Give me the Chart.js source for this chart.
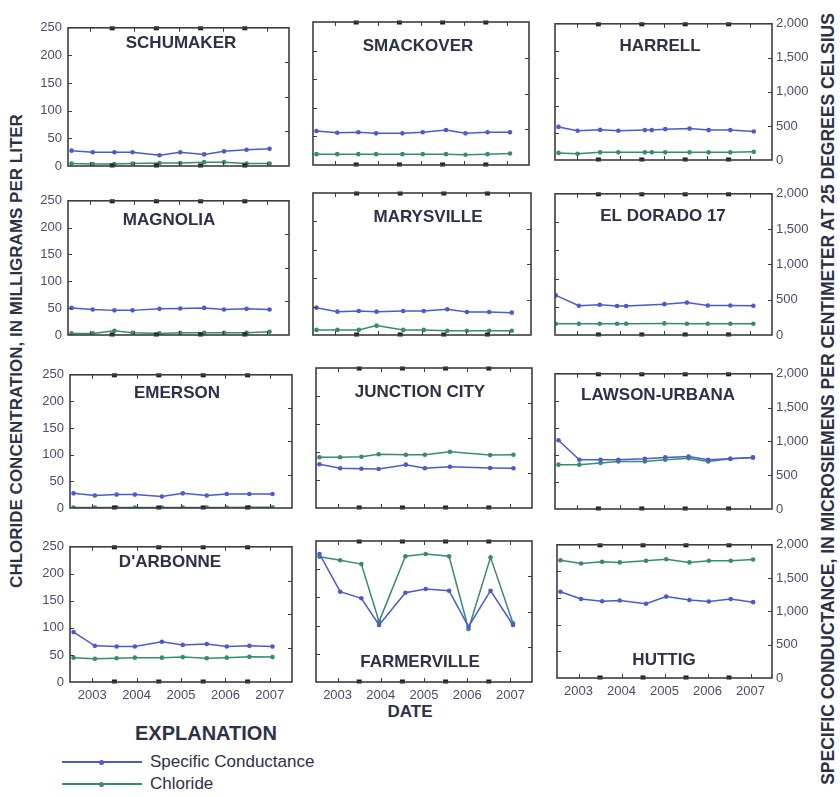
<!DOCTYPE html>
<html>
<head>
<meta charset="utf-8">
<script src="https://cdn.jsdelivr.net/npm/chart.js@4.4.1/dist/chart.umd.min.js"></script>
<style>
  body { margin: 0; background: #fff; }
  #fig { position: relative; width: 840px; height: 797px; overflow: hidden;
         font-family: "Liberation Sans", Arial, sans-serif; background: #fff; }
  #fig canvas { position: absolute; }
  .txt { position: absolute; white-space: nowrap; color: #2c3148; font-weight: bold; }
  .rot { transform: translate(-50%, -50%) rotate(-90deg); }
  .ctr { transform: translate(-50%, -50%); }
  .lg-line { position: absolute; height: 2px; }
  .lg-dot { position: absolute; width: 5px; height: 5px; border-radius: 50%; }
  .lg-txt { position: absolute; font-size: 17px; color: #2c3148; transform: translateY(-50%); white-space: nowrap; }
</style>
</head>
<body>
<div id="fig">
  <div class="txt rot" style="left:17px; top:351px; font-size:17px;">CHLORIDE CONCENTRATION, IN MILLIGRAMS PER LITER</div>
  <div class="txt rot" style="left:828px; top:399px; font-size:17.5px;">SPECIFIC CONDUCTANCE, IN MICROSIEMENS PER CENTIMETER AT 25 DEGREES CELSIUS</div>
  <div class="txt ctr" style="left:410px; top:712px; font-size:17px;">DATE</div>
  <div class="txt" style="left:135px; top:733px; font-size:20px; transform: translateY(-50%);">EXPLANATION</div>

  <div class="lg-line" style="left:62px; top:761px; width:80px; background:#4b5ad2;"></div>
  <div class="lg-dot" style="left:99px; top:759.5px; background:#4b5ad2;"></div>
  <div class="lg-txt" style="left:150px; top:762px;">Specific Conductance</div>
  <div class="lg-line" style="left:62px; top:783px; width:80px; background:#378c6e;"></div>
  <div class="lg-dot" style="left:99px; top:781.5px; background:#378c6e;"></div>
  <div class="lg-txt" style="left:150px; top:784px;">Chloride</div>
</div>

<script>
// ---- Data: semiannual samples, 2002-2007 ----
// Specific conductance in microsiemens per centimeter at 25 °C, chloride in mg/L.
const siteNames = ['SCHUMAKER', 'SMACKOVER', 'HARRELL', 'MAGNOLIA', 'MARYSVILLE', 'EL DORADO 17',
                   'EMERSON', 'JUNCTION CITY', 'LAWSON-URBANA', "D'ARBONNE", 'FARMERVILLE', 'HUTTIG'];

const sampleDates   = [2002.58, 2003.06, 2003.55, 2003.96, 2004.57, 2005.04, 2005.58, 2006.03, 2006.54, 2007.06];
const harrellDates  = [2002.58, 2003.02, 2003.54, 2003.96, 2004.57, 2004.73, 2005.04, 2005.60, 2006.04, 2006.54, 2007.08];
const elDoradoDates = [2002.52, 2003.05, 2003.53, 2003.93, 2004.14, 2005.02, 2005.54, 2006.02, 2006.54, 2007.07];
const junctionDates = [2002.58, 2003.06, 2003.55, 2003.95, 2004.58, 2005.02, 2005.60, 2006.53, 2007.07];

const schumakerSC = [222, 200, 198, 198, 155, 200, 168, 212, 235, 248];
const schumakerCl = [4.5, 3.5, 3.5, 4.5, 5.5, 5.5, 7, 7, 4.5, 4.5];
const smackoverSC = [476, 452, 457, 443, 443, 457, 490, 443, 457, 457];
const smackoverCl = [19, 19, 19, 19, 19, 19, 19, 18, 19, 20];
const harrellSC   = [486, 429, 443, 429, 439, 439, 453, 461, 439, 439, 419];
const harrellCl   = [13, 11.5, 14, 14, 14, 14, 14, 14, 14, 14, 15];
const magnoliaSC  = [404, 381, 367, 367, 390, 396, 404, 381, 390, 381];
const magnoliaCl  = [3, 3, 8, 4, 3, 4, 4, 4, 4, 6];
const marysvilleSC = [385, 329, 338, 329, 338, 338, 362, 324, 324, 315];
const marysvilleCl = [9, 9, 9, 16.5, 9, 9, 7.5, 7.5, 7.5, 7.5];
const elDoradoSC  = [561, 414, 428, 410, 410, 437, 459, 418, 418, 414];
const elDoradoCl  = [20, 20, 20, 20, 20, 20.5, 20, 20, 20, 20];
const emersonSC   = [220, 187, 201, 201, 173, 220, 187, 211, 211, 211];
const emersonCl   = [1, 1, 1, 1, 1, 1, 1, 1, 1.5, 1.5];
const junctionSC  = [624, 567, 561, 557, 619, 567, 590, 571, 567];
const junctionCl  = [90.5, 90.5, 91.5, 96, 95, 95, 100.5, 94.5, 95];
const lawsonSC    = [1017, 729, 729, 729, 744, 763, 777, 729, 744, 763];
const lawsonCl    = [82, 82, 85, 88, 88, 91, 94, 88, 93, 95];
const darbonneSC  = [738, 535, 525, 525, 596, 549, 563, 525, 535, 525];
const darbonneCl  = [45, 43, 44, 45, 45, 46, 44, 45, 46.5, 46];
const farmervilleSC = [1816, 1281, 1187, 809, 1267, 1319, 1295, 784, 1295, 809];
const farmervilleCl = [222, 216, 209, 107, 223, 227, 223, 94, 221, 104];
const huttigSC    = [1295, 1187, 1153, 1163, 1114, 1222, 1172, 1149, 1187, 1139];
const huttigCl    = [221, 215, 218, 217, 220, 223, 217, 220, 220, 222.5];

// Axis ticks
const yearTicks   = [2003, 2004, 2005, 2006, 2007];
const halfYearTicks = [2003.5, 2004.5, 2005.5, 2006.5];
const chlorideTicks = [0, 50, 100, 150, 200, 250];
const conductanceTicks = [0, 500, 1000, 1500, 2000];
const conductanceLabels = ['0', '500', '1,000', '1,500', '2,000'];

const sites = [
  { dates: sampleDates,   sc: schumakerSC,   cl: schumakerCl },
  { dates: sampleDates,   sc: smackoverSC,   cl: smackoverCl },
  { dates: harrellDates,  sc: harrellSC,     cl: harrellCl },
  { dates: sampleDates,   sc: magnoliaSC,    cl: magnoliaCl },
  { dates: sampleDates,   sc: marysvilleSC,  cl: marysvilleCl },
  { dates: elDoradoDates, sc: elDoradoSC,    cl: elDoradoCl },
  { dates: sampleDates,   sc: emersonSC,     cl: emersonCl },
  { dates: junctionDates, sc: junctionSC,    cl: junctionCl },
  { dates: sampleDates,   sc: lawsonSC,      cl: lawsonCl },
  { dates: sampleDates,   sc: darbonneSC,    cl: darbonneCl },
  { dates: sampleDates,   sc: farmervilleSC, cl: farmervilleCl },
  { dates: sampleDates,   sc: huttigSC,      cl: huttigCl },
];

// ---- Layout: plot rectangle of each panel, and where its name sits ----
const plotRects = [
  { x: 68,  y: 22,  w: 221, h: 144 }, { x: 313, y: 22,  w: 216, h: 143 }, { x: 555, y: 20,  w: 217, h: 140 },
  { x: 68,  y: 195, w: 221, h: 140 }, { x: 313, y: 193, w: 218, h: 142 }, { x: 555, y: 190, w: 217, h: 145 },
  { x: 70,  y: 369, w: 222, h: 139 }, { x: 316, y: 368, w: 216, h: 140 }, { x: 555, y: 370, w: 217, h: 139 },
  { x: 70,  y: 541, w: 222, h: 141 }, { x: 316, y: 541, w: 216, h: 141 }, { x: 557, y: 541, w: 215, h: 137 },
];
const namePos = [
  [181, 43], [418, 46], [660, 46],
  [169, 220], [428, 217], [663, 216],
  [177, 393], [420, 392], [658, 395],
  [170, 562], [420, 662], [664, 660],
];

const BLUE = '#4b5ad2';
const GREEN = '#378c6e';
const TICK_COLOR = '#474d6e';
const FONT = '"Liberation Sans", Arial, sans-serif';
const M = { l: 44, r: 48, t: 8, b: 26 };

// Frame, inner tick marks and the site name, drawn over each panel
const panelDecor = {
  id: 'panelDecor',
  afterDraw(chart, args, opts) {
    const { ctx, chartArea: a, scales } = chart;
    ctx.save();
    ctx.strokeStyle = '#3c3c44';
    ctx.fillStyle = '#1e1e24';
    ctx.lineWidth = 1;
    // year ticks along top and bottom
    yearTicks.forEach(v => {
      const x = Math.round(scales.x.getPixelForValue(v)) + 0.5;
      ctx.beginPath();
      ctx.moveTo(x, a.top); ctx.lineTo(x, a.top + 4);
      ctx.moveTo(x, a.bottom); ctx.lineTo(x, a.bottom - 4);
      ctx.stroke();
    });
    halfYearTicks.forEach(v => {
      const x = scales.x.getPixelForValue(v);
      ctx.fillRect(x - 2.5, a.top - 1.5, 5, 4);
      ctx.fillRect(x - 2.5, a.bottom - 2.5, 5, 4);
    });
    chlorideTicks.slice(1, -1).forEach(v => {
      const y = Math.round(scales.yCl.getPixelForValue(v)) + 0.5;
      ctx.beginPath(); ctx.moveTo(a.left, y); ctx.lineTo(a.left + 4, y); ctx.stroke();
    });
    conductanceTicks.slice(1, -1).forEach(v => {
      const y = Math.round(scales.ySC.getPixelForValue(v)) + 0.5;
      ctx.beginPath(); ctx.moveTo(a.right, y); ctx.lineTo(a.right - 4, y); ctx.stroke();
    });
    ctx.lineWidth = 1.6;
    ctx.strokeRect(a.left, a.top, a.right - a.left, a.bottom - a.top);
    // site name
    ctx.font = 'bold 17px ' + FONT;
    ctx.fillStyle = '#2c3148';
    ctx.textAlign = 'center';
    ctx.textBaseline = 'middle';
    ctx.fillText(opts.name, opts.nx, opts.ny);
    ctx.restore();
  }
};

const fig = document.getElementById('fig');

sites.forEach((s, i) => {
  const r = plotRects[i];
  const col = i % 3, row = Math.floor(i / 3);
  const left = r.x - M.l, top = r.y - M.t;
  const W = r.w + M.l + M.r, H = r.h + M.t + M.b;
  const cv = document.createElement('canvas');
  cv.width = W; cv.height = H;
  cv.style.left = left + 'px'; cv.style.top = top + 'px';
  cv.style.width = W + 'px'; cv.style.height = H + 'px';
  fig.appendChild(cv);

  const series = (vals) => s.dates.map((d, k) => ({ x: d, y: vals[k] }));
  const lineSet = (label, vals, axis, color) => ({
    label, data: series(vals), yAxisID: axis,
    borderColor: color, backgroundColor: color,
    borderWidth: 1.5, pointRadius: 2.3, pointBorderWidth: 0, tension: 0
  });

  new Chart(cv, {
    type: 'line',
    data: {
      datasets: [
        lineSet('Specific Conductance', s.sc, 'ySC', BLUE),
        lineSet('Chloride', s.cl, 'yCl', GREEN)
      ]
    },
    options: {
      responsive: false,
      animation: false,
      devicePixelRatio: 1,
      layout: { padding: { top: M.t, left: 0, right: 0, bottom: 0 } },
      plugins: {
        legend: { display: false },
        tooltip: { enabled: false },
        panelDecor: { name: siteNames[i], nx: namePos[i][0] - left, ny: namePos[i][1] - top }
      },
      scales: {
        x: {
          type: 'linear', min: 2002.5, max: 2007.5,
          grid: { display: false, drawTicks: false }, border: { display: false },
          afterBuildTicks: sc => { sc.ticks = yearTicks.map(v => ({ value: v })); },
          afterFit: sc => { sc.height = M.b; },
          ticks: {
            display: row === 3, autoSkip: false, maxRotation: 0, padding: 6,
            color: TICK_COLOR, font: { family: FONT, size: 13 },
            callback: v => String(v)
          }
        },
        yCl: {
          type: 'linear', position: 'left', min: 0, max: 250,
          grid: { display: false, drawTicks: false }, border: { display: false },
          afterBuildTicks: sc => { sc.ticks = chlorideTicks.map(v => ({ value: v })); },
          afterFit: sc => { sc.width = M.l; },
          ticks: {
            display: col === 0, padding: 6, color: TICK_COLOR, font: { family: FONT, size: 13 },
            callback: v => String(v)
          }
        },
        ySC: {
          type: 'linear', position: 'right', min: 0, max: 2000,
          grid: { display: false, drawTicks: false }, border: { display: false },
          afterBuildTicks: sc => { sc.ticks = conductanceTicks.map(v => ({ value: v })); },
          afterFit: sc => { sc.width = M.r; },
          ticks: {
            display: col === 2, padding: 4, color: TICK_COLOR, font: { family: FONT, size: 13 },
            callback: v => conductanceLabels[conductanceTicks.indexOf(v)]
          }
        }
      }
    },
    plugins: [panelDecor]
  });
});
</script>
</body>
</html>
